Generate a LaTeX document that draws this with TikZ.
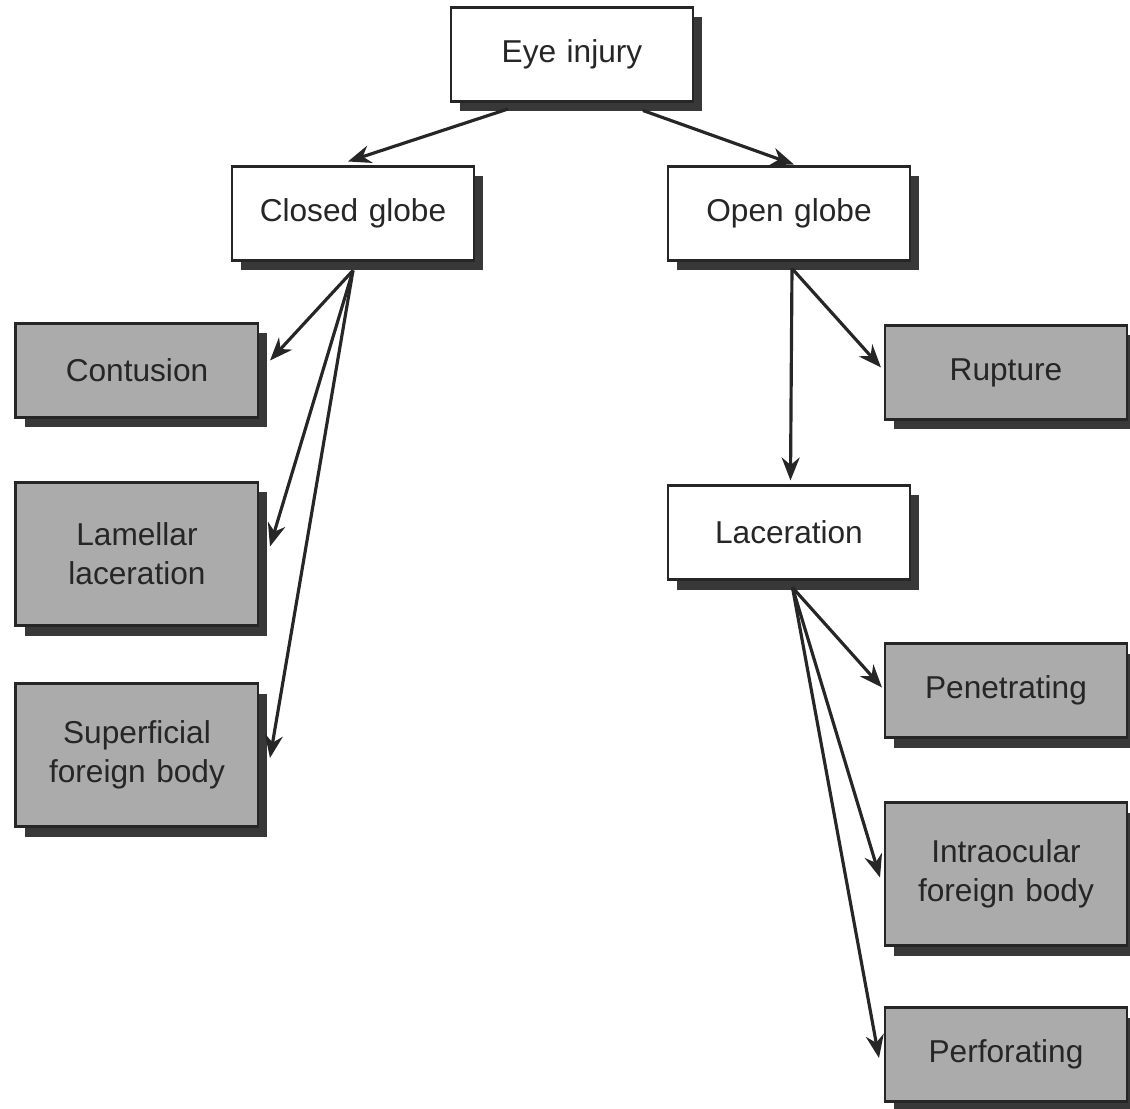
\documentclass[tikz,border=0pt]{standalone}
\usepackage{fontspec}
\setmainfont{Liberation Sans}
\usepackage{tikz}
\usetikzlibrary{arrows.meta, positioning, shadows}
\tikzset{
    pale/.style={rectangle, draw=black!85, line width=1.7pt, outer sep=0pt, fill=white, text=black!85, text width=4.4cm, align=center, minimum width=4.84cm, minimum height=1.88cm, font=\fontsize{18}{22}\selectfont, drop shadow={shadow xshift=0.18cm, shadow yshift=-0.2cm, fill=black!78, opacity=1}},
    leaf/.style={pale, fill=black!33},
    leaftall/.style={leaf, minimum height=2.86cm},
    arrow/.style={-{Stealth[length=0.46cm, width=0.36cm]}, line width=1.8pt, draw=black!85},
}
\begin{document}
\begin{tikzpicture}[node distance=1.3cm, auto]
        \useasboundingbox (-11.44,1.09) rectangle (11.16,-21.09);
        % Nodes
        \node [pale] (eye) {Eye injury};
        \node [pale, below=1.3cm of eye, xshift=-4.38cm] (closed) {Closed globe};
        \node [pale, right=3.88cm of closed] (open) {Open globe};
        \node [leaf, below=1.26cm of closed, xshift=-4.32cm] (contusion) {Contusion};
        \node [leaftall, below=1.3cm of contusion] (lamellar) {Lamellar\\laceration};
        \node [leaftall, below=1.16cm of lamellar] (superficial) {Superficial\\foreign body};
        \node [leaf, below=1.3cm of open, xshift=4.34cm] (rupture) {Rupture};
        \node [pale, below=4.5cm of open] (laceration) {Laceration};
        \node [leaf, below=4.48cm of rupture] (penetrating) {Penetrating};
        \node [leaftall, below=1.3cm of penetrating] (intraocular) {Intraocular\\foreign body};
        \node [leaf, below=1.24cm of intraocular] (perforating) {Perforating};

        % Edges
        \draw [arrow] ([xshift=-1.28cm, yshift=-0.15cm]eye.south) -- ([xshift=-0.1cm, yshift=0.1cm]closed.north);
        \draw [arrow] ([xshift=1.42cm, yshift=-0.18cm]eye.south) -- ([xshift=0.1cm, yshift=0.04cm]open.north);
        \draw [arrow] ([yshift=-0.2cm]closed.south) -- ([xshift=0.24cm, yshift=0.2cm]contusion.east);
        \draw [arrow] ([yshift=-0.2cm]closed.south) -- ([xshift=0.24cm, yshift=0.15cm]lamellar.east);
        \draw [arrow] ([yshift=-0.2cm]closed.south) -- ([xshift=0.24cm, yshift=-0.06cm]superficial.east);
        \draw [arrow] ([xshift=0.06cm, yshift=-0.16cm]open.south) -- ([xshift=-0.08cm, yshift=0.1cm]rupture.west);
        \draw [arrow] ([xshift=0.06cm, yshift=-0.16cm]open.south) -- ([xshift=0.03cm, yshift=0.1cm]laceration.north);
        \draw [arrow] ([xshift=0.07cm, yshift=-0.16cm]laceration.south) -- ([xshift=-0.06cm, yshift=0.06cm]penetrating.west);
        \draw [arrow] ([xshift=0.07cm, yshift=-0.16cm]laceration.south) -- ([xshift=-0.1cm, yshift=-0.07cm]intraocular.west);
        \draw [arrow] ([xshift=0.07cm, yshift=-0.16cm]laceration.south) -- ([xshift=-0.12cm, yshift=-0.07cm]perforating.west);
    \end{tikzpicture}
\end{document}
